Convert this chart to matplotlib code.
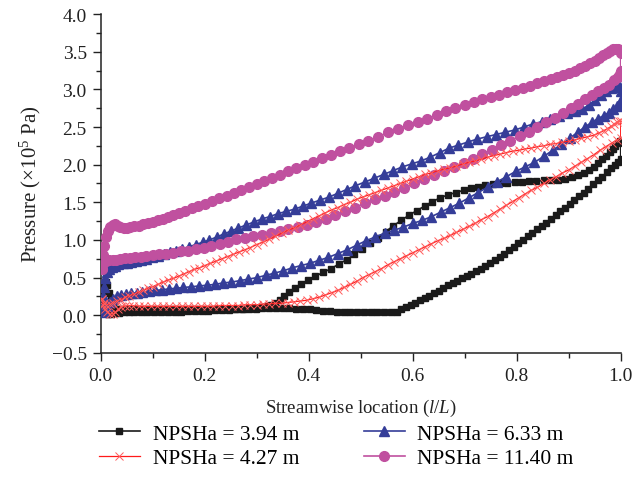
import matplotlib
matplotlib.use("Agg")
import matplotlib.pyplot as plt
from matplotlib.ticker import MultipleLocator

plt.rcParams['font.family'] = ['Liberation Serif', 'DejaVu Serif']
plt.rcParams['mathtext.fontset'] = 'custom'
plt.rcParams['mathtext.rm'] = 'Liberation Serif'
plt.rcParams['mathtext.it'] = 'Liberation Serif:italic'

labels = ["NPSHa = 3.94 m", "NPSHa = 4.27 m", "NPSHa = 6.33 m", "NPSHa = 11.40 m"]

# ---- NPSHa = 3.94 m (black) ----
blk_ps_x = [0.002, 0.004, 0.007, 0.010, 0.013, 0.016, 0.019, 0.023, 0.028, 0.034, 0.041, 0.049, 0.058, 0.068,
            0.079, 0.091, 0.104, 0.117, 0.130, 0.143, 0.156, 0.169, 0.182, 0.195, 0.208, 0.221, 0.234, 0.247,
            0.260, 0.273, 0.286, 0.298, 0.309, 0.319, 0.328, 0.336, 0.344, 0.353, 0.363, 0.374, 0.386, 0.399,
            0.413, 0.428, 0.443, 0.458, 0.473, 0.488, 0.503, 0.518, 0.533, 0.548, 0.563, 0.578, 0.593, 0.608,
            0.623, 0.638, 0.653, 0.668, 0.683, 0.698, 0.712, 0.726, 0.740, 0.754, 0.768, 0.782, 0.796, 0.810,
            0.824, 0.838, 0.852, 0.866, 0.880, 0.893, 0.906, 0.918, 0.929, 0.939, 0.948, 0.957, 0.965, 0.972,
            0.979, 0.985, 0.990, 0.995, 0.998, 1.000]
blk_ps_y = [0.15, 0.28, 0.38, 0.44, 0.40, 0.30, 0.20, 0.12, 0.09, 0.08, 0.08, 0.08, 0.08, 0.08,
            0.08, 0.08, 0.08, 0.08, 0.08, 0.08, 0.08, 0.08, 0.08, 0.08, 0.08, 0.08, 0.08, 0.09,
            0.09, 0.09, 0.10, 0.10, 0.11, 0.12, 0.14, 0.17, 0.21, 0.26, 0.31, 0.36, 0.42, 0.47,
            0.52, 0.57, 0.62, 0.68, 0.74, 0.81, 0.88, 0.96, 1.03, 1.11, 1.19, 1.26, 1.33, 1.39,
            1.45, 1.51, 1.56, 1.60, 1.63, 1.66, 1.69, 1.71, 1.73, 1.74, 1.75, 1.76, 1.77, 1.77,
            1.78, 1.78, 1.79, 1.79, 1.80, 1.81, 1.83, 1.86, 1.89, 1.93, 1.97, 2.02, 2.07, 2.12,
            2.17, 2.21, 2.25, 2.29, 2.31, 2.32]
blk_ss_x = [0.002, 0.005, 0.009, 0.014, 0.020, 0.027, 0.035, 0.044, 0.054, 0.065, 0.077, 0.090, 0.103, 0.116,
            0.129, 0.142, 0.155, 0.168, 0.181, 0.194, 0.207, 0.220, 0.233, 0.246, 0.259, 0.272, 0.285, 0.298,
            0.311, 0.324, 0.337, 0.350, 0.363, 0.376, 0.389, 0.402, 0.415, 0.428, 0.441, 0.454, 0.467, 0.480,
            0.493, 0.506, 0.519, 0.532, 0.545, 0.558, 0.569, 0.578, 0.587, 0.596, 0.605, 0.614, 0.623, 0.632,
            0.641, 0.650, 0.659, 0.668, 0.677, 0.686, 0.695, 0.704, 0.713, 0.722, 0.731, 0.740, 0.749, 0.758,
            0.767, 0.776, 0.785, 0.794, 0.803, 0.812, 0.821, 0.830, 0.839, 0.848, 0.857, 0.866, 0.875, 0.884,
            0.893, 0.902, 0.911, 0.920, 0.929, 0.938, 0.947, 0.956, 0.965, 0.974, 0.982, 0.989, 0.995, 1.000]
blk_ss_y = [0.15, 0.07, 0.03, 0.02, 0.02, 0.03, 0.03, 0.04, 0.04, 0.04, 0.05, 0.05, 0.05, 0.05,
            0.05, 0.05, 0.05, 0.06, 0.06, 0.06, 0.06, 0.07, 0.07, 0.07, 0.08, 0.08, 0.09, 0.09,
            0.10, 0.10, 0.10, 0.10, 0.10, 0.09, 0.08, 0.08, 0.07, 0.06, 0.06, 0.05, 0.05, 0.05,
            0.05, 0.05, 0.05, 0.05, 0.05, 0.05, 0.05, 0.08, 0.11, 0.14, 0.17, 0.20, 0.23, 0.26,
            0.29, 0.32, 0.36, 0.40, 0.43, 0.46, 0.49, 0.52, 0.55, 0.59, 0.62, 0.66, 0.70, 0.74,
            0.78, 0.82, 0.87, 0.91, 0.96, 1.00, 1.05, 1.09, 1.14, 1.19, 1.23, 1.28, 1.33, 1.38,
            1.43, 1.48, 1.53, 1.58, 1.63, 1.68, 1.74, 1.79, 1.84, 1.90, 1.95, 1.99, 2.03, 2.08]

# ---- NPSHa = 4.27 m (red) ----
red_ps_x = [0.002, 0.006, 0.011, 0.017, 0.024, 0.031, 0.039, 0.047, 0.055, 0.064, 0.073, 0.082, 0.091, 0.100,
            0.110, 0.120, 0.130, 0.140, 0.150, 0.160, 0.170, 0.180, 0.190, 0.200, 0.211, 0.222, 0.233, 0.244,
            0.255, 0.266, 0.277, 0.288, 0.300, 0.312, 0.324, 0.336, 0.348, 0.360, 0.372, 0.384, 0.396, 0.408,
            0.420, 0.432, 0.444, 0.456, 0.468, 0.480, 0.492, 0.504, 0.516, 0.528, 0.540, 0.552, 0.564, 0.576,
            0.588, 0.600, 0.612, 0.624, 0.636, 0.648, 0.660, 0.672, 0.684, 0.696, 0.708, 0.720, 0.732, 0.744,
            0.756, 0.768, 0.780, 0.792, 0.804, 0.816, 0.828, 0.840, 0.852, 0.864, 0.876, 0.888, 0.900, 0.912,
            0.924, 0.936, 0.948, 0.958, 0.967, 0.975, 0.982, 0.988, 0.993, 0.997, 1.000]
red_ps_y = [0.22, 0.16, 0.14, 0.15, 0.17, 0.19, 0.21, 0.24, 0.26, 0.28, 0.31, 0.33, 0.36, 0.38,
            0.41, 0.44, 0.47, 0.49, 0.52, 0.55, 0.58, 0.61, 0.63, 0.66, 0.69, 0.72, 0.75, 0.78,
            0.81, 0.84, 0.87, 0.90, 0.94, 0.97, 1.01, 1.05, 1.09, 1.13, 1.16, 1.20, 1.24, 1.28,
            1.32, 1.36, 1.40, 1.43, 1.47, 1.50, 1.54, 1.57, 1.60, 1.63, 1.66, 1.69, 1.72, 1.75,
            1.78, 1.81, 1.84, 1.87, 1.89, 1.92, 1.94, 1.96, 1.98, 2.01, 2.03, 2.05, 2.07, 2.10,
            2.12, 2.14, 2.16, 2.18, 2.19, 2.21, 2.22, 2.24, 2.25, 2.27, 2.28, 2.30, 2.31, 2.33,
            2.35, 2.37, 2.39, 2.42, 2.45, 2.48, 2.51, 2.54, 2.56, 2.58, 2.58]
red_ss_x = [0.002, 0.005, 0.009, 0.013, 0.018, 0.023, 0.028, 0.033, 0.039, 0.046, 0.054, 0.063, 0.073, 0.084,
            0.096, 0.108, 0.120, 0.132, 0.144, 0.156, 0.168, 0.180, 0.192, 0.204, 0.216, 0.228, 0.240, 0.252,
            0.264, 0.276, 0.288, 0.300, 0.312, 0.324, 0.336, 0.348, 0.360, 0.372, 0.384, 0.396, 0.408, 0.420,
            0.432, 0.444, 0.456, 0.468, 0.480, 0.492, 0.504, 0.516, 0.528, 0.540, 0.552, 0.564, 0.576, 0.588,
            0.600, 0.612, 0.624, 0.636, 0.648, 0.660, 0.672, 0.684, 0.696, 0.708, 0.720, 0.732, 0.744, 0.756,
            0.768, 0.780, 0.792, 0.804, 0.816, 0.828, 0.840, 0.852, 0.864, 0.876, 0.888, 0.900, 0.912, 0.924,
            0.936, 0.948, 0.960, 0.972, 0.984, 0.993, 1.000]
red_ss_y = [0.22, 0.14, 0.08, 0.04, 0.02, 0.02, 0.04, 0.08, 0.11, 0.12, 0.13, 0.13, 0.12, 0.12,
            0.12, 0.12, 0.12, 0.12, 0.12, 0.12, 0.12, 0.12, 0.12, 0.12, 0.12, 0.13, 0.13, 0.13,
            0.13, 0.14, 0.14, 0.14, 0.15, 0.15, 0.16, 0.16, 0.17, 0.18, 0.19, 0.20, 0.22, 0.24,
            0.27, 0.30, 0.33, 0.37, 0.41, 0.45, 0.50, 0.54, 0.58, 0.62, 0.67, 0.71, 0.75, 0.79,
            0.83, 0.87, 0.91, 0.95, 0.99, 1.02, 1.06, 1.10, 1.14, 1.18, 1.22, 1.27, 1.31, 1.36,
            1.41, 1.46, 1.51, 1.56, 1.61, 1.66, 1.70, 1.75, 1.80, 1.84, 1.89, 1.93, 1.98, 2.03,
            2.08, 2.13, 2.19, 2.24, 2.29, 2.33, 2.36]

# ---- NPSHa = 6.33 m (blue) ----
blu_ps_x = [0.002, 0.004, 0.006, 0.009, 0.012, 0.016, 0.021, 0.027, 0.034, 0.042, 0.050, 0.059, 0.068, 0.078,
            0.088, 0.099, 0.110, 0.121, 0.133, 0.145, 0.157, 0.170, 0.183, 0.196, 0.209, 0.223, 0.237, 0.251,
            0.265, 0.280, 0.295, 0.310, 0.325, 0.341, 0.357, 0.373, 0.389, 0.405, 0.422, 0.439, 0.456, 0.473,
            0.490, 0.508, 0.526, 0.544, 0.562, 0.580, 0.598, 0.616, 0.634, 0.652, 0.670, 0.688, 0.706, 0.724,
            0.742, 0.760, 0.778, 0.796, 0.814, 0.831, 0.848, 0.865, 0.881, 0.897, 0.912, 0.926, 0.939, 0.951,
            0.962, 0.972, 0.981, 0.989, 0.995, 0.999, 1.000]
blu_ps_y = [0.10, 0.25, 0.38, 0.50, 0.57, 0.61, 0.64, 0.66, 0.68, 0.69, 0.70, 0.71, 0.72, 0.74,
            0.75, 0.77, 0.79, 0.81, 0.84, 0.86, 0.88, 0.91, 0.94, 0.97, 1.00, 1.04, 1.08, 1.12,
            1.16, 1.20, 1.24, 1.28, 1.31, 1.35, 1.38, 1.41, 1.45, 1.49, 1.53, 1.57, 1.62, 1.67,
            1.72, 1.77, 1.82, 1.87, 1.92, 1.97, 2.01, 2.05, 2.10, 2.16, 2.22, 2.26, 2.30, 2.34,
            2.37, 2.40, 2.43, 2.46, 2.50, 2.54, 2.57, 2.61, 2.64, 2.68, 2.71, 2.74, 2.79, 2.86,
            2.93, 2.98, 3.02, 3.04, 3.05, 3.03, 2.98]
blu_ss_x = [0.002, 0.005, 0.009, 0.013, 0.018, 0.024, 0.031, 0.039, 0.048, 0.058, 0.069, 0.080, 0.092, 0.105,
            0.118, 0.131, 0.145, 0.159, 0.174, 0.189, 0.204, 0.219, 0.235, 0.251, 0.267, 0.283, 0.300, 0.317,
            0.334, 0.351, 0.368, 0.385, 0.402, 0.420, 0.438, 0.456, 0.474, 0.492, 0.510, 0.528, 0.546, 0.564,
            0.582, 0.600, 0.618, 0.636, 0.654, 0.672, 0.690, 0.708, 0.726, 0.744, 0.762, 0.780, 0.798, 0.816,
            0.834, 0.852, 0.869, 0.886, 0.902, 0.917, 0.931, 0.944, 0.956, 0.967, 0.977, 0.986, 0.993, 0.998,
            1.000]
blu_ss_y = [0.10, 0.04, 0.06, 0.12, 0.18, 0.22, 0.25, 0.27, 0.28, 0.29, 0.30, 0.31, 0.32, 0.33,
            0.34, 0.35, 0.36, 0.37, 0.38, 0.39, 0.40, 0.41, 0.43, 0.44, 0.46, 0.48, 0.50, 0.53,
            0.56, 0.59, 0.63, 0.66, 0.69, 0.73, 0.77, 0.82, 0.87, 0.93, 0.99, 1.04, 1.09, 1.13,
            1.17, 1.22, 1.26, 1.31, 1.37, 1.43, 1.49, 1.56, 1.63, 1.70, 1.77, 1.84, 1.91, 1.97,
            2.03, 2.11, 2.19, 2.27, 2.35, 2.43, 2.50, 2.56, 2.61, 2.65, 2.69, 2.74, 2.78, 2.82,
            2.86]

# ---- NPSHa = 11.40 m (magenta) ----
mag_ps_x = [0.002, 0.004, 0.007, 0.010, 0.014, 0.018, 0.023, 0.028, 0.033, 0.038, 0.044, 0.050, 0.057, 0.065,
            0.073, 0.082, 0.091, 0.100, 0.110, 0.120, 0.130, 0.140, 0.150, 0.162, 0.175, 0.188, 0.200, 0.214,
            0.228, 0.242, 0.256, 0.270, 0.285, 0.300, 0.315, 0.330, 0.345, 0.360, 0.376, 0.392, 0.408, 0.425,
            0.442, 0.460, 0.478, 0.496, 0.515, 0.534, 0.553, 0.572, 0.591, 0.610, 0.628, 0.646, 0.664, 0.682,
            0.700, 0.717, 0.734, 0.750, 0.766, 0.782, 0.797, 0.812, 0.826, 0.840, 0.853, 0.866, 0.878, 0.890,
            0.901, 0.912, 0.922, 0.932, 0.941, 0.950, 0.958, 0.966, 0.973, 0.980, 0.986, 0.991, 0.995, 0.998,
            1.000]
mag_ps_y = [0.62, 0.80, 0.92, 1.04, 1.12, 1.17, 1.20, 1.21, 1.19, 1.17, 1.16, 1.16, 1.17, 1.18,
            1.19, 1.21, 1.22, 1.24, 1.26, 1.28, 1.31, 1.33, 1.36, 1.39, 1.42, 1.45, 1.48, 1.52,
            1.56, 1.59, 1.63, 1.66, 1.70, 1.74, 1.78, 1.82, 1.86, 1.91, 1.95, 1.99, 2.04, 2.09,
            2.13, 2.18, 2.22, 2.27, 2.32, 2.37, 2.43, 2.48, 2.52, 2.57, 2.61, 2.66, 2.71, 2.75,
            2.79, 2.83, 2.87, 2.90, 2.93, 2.96, 2.99, 3.02, 3.05, 3.08, 3.11, 3.14, 3.17, 3.19,
            3.22, 3.25, 3.28, 3.31, 3.35, 3.38, 3.42, 3.45, 3.48, 3.51, 3.53, 3.54, 3.54, 3.52,
            3.48]
mag_ss_x = [0.002, 0.005, 0.010, 0.016, 0.023, 0.030, 0.038, 0.047, 0.056, 0.066, 0.077, 0.088, 0.100, 0.113,
            0.126, 0.140, 0.154, 0.168, 0.183, 0.198, 0.213, 0.229, 0.245, 0.261, 0.277, 0.293, 0.310, 0.327,
            0.344, 0.361, 0.379, 0.397, 0.415, 0.433, 0.451, 0.470, 0.489, 0.508, 0.527, 0.546, 0.565, 0.584,
            0.603, 0.622, 0.641, 0.660, 0.679, 0.698, 0.716, 0.734, 0.752, 0.770, 0.788, 0.806, 0.823, 0.840,
            0.857, 0.873, 0.889, 0.904, 0.918, 0.932, 0.945, 0.957, 0.968, 0.978, 0.987, 0.994, 0.998, 1.000]
mag_ss_y = [0.62, 0.70, 0.72, 0.73, 0.74, 0.74, 0.75, 0.76, 0.76, 0.77, 0.78, 0.79, 0.80, 0.81,
            0.82, 0.83, 0.85, 0.86, 0.88, 0.90, 0.92, 0.95, 0.98, 1.01, 1.03, 1.05, 1.07, 1.09,
            1.12, 1.14, 1.17, 1.20, 1.24, 1.28, 1.33, 1.38, 1.43, 1.49, 1.54, 1.59, 1.64, 1.69,
            1.75, 1.81, 1.86, 1.92, 1.97, 2.02, 2.08, 2.14, 2.20, 2.26, 2.32, 2.38, 2.44, 2.50,
            2.56, 2.62, 2.68, 2.75, 2.81, 2.87, 2.93, 2.98, 3.02, 3.06, 3.12, 3.17, 3.21, 3.25]

series = [
    (blk_ps_x, blk_ps_y, blk_ss_x, blk_ss_y),
    (red_ps_x, red_ps_y, red_ss_x, red_ss_y),
    (blu_ps_x, blu_ps_y, blu_ss_x, blu_ss_y),
    (mag_ps_x, mag_ps_y, mag_ss_x, mag_ss_y),
]
styles = [
    dict(color='#1a1a1a', marker='s', markersize=5.0, mfc='#1a1a1a', mec='#1a1a1a', lw=1.2, zorder=3),
    dict(color='#ff1a1a', marker='x', markersize=5.5, mfc='none', mec='#ff5c5c', mew=0.7, lw=0.9, zorder=6),
    dict(color='#353d98', marker='^', markersize=7.0, mfc='#353d98', mec='#353d98', lw=1.2, zorder=4),
    dict(color='#c0509f', marker='o', markersize=7.0, mfc='#c0509f', mec='#c0509f', lw=1.2, zorder=5),
]

fig = plt.figure(figsize=(6.43, 4.89), dpi=100)
ax = fig.add_axes([0.1566, 0.2761, 0.8087, 0.6932])

for (psx, psy, ssx, ssy), st, lab in zip(series, styles, labels):
    xs = list(psx) + list(ssx[::-1])
    ys = list(psy) + list(ssy[::-1])
    ax.plot(xs, ys, label=lab, **st)

ax.set_xlim(0.0, 1.0)
ax.set_ylim(-0.5, 4.0)
ax.xaxis.set_major_locator(MultipleLocator(0.2))
ax.xaxis.set_minor_locator(MultipleLocator(0.1))
ax.yaxis.set_major_locator(MultipleLocator(0.5))
ax.yaxis.set_minor_locator(MultipleLocator(0.25))
ax.spines['top'].set_visible(False)
ax.spines['right'].set_visible(False)
for s in ('left', 'bottom'):
    ax.spines[s].set_linewidth(1.1)
    ax.spines[s].set_color('#222222')
ax.tick_params(which='major', direction='out', length=6, width=1.0, labelsize=14, colors='#222222', pad=4)
ax.tick_params(which='minor', direction='out', length=3.5, width=1.0, colors='#222222')
ax.xaxis.set_major_formatter(matplotlib.ticker.FuncFormatter(lambda v, p: f"{v:.1f}"))
ax.yaxis.set_major_formatter(matplotlib.ticker.FuncFormatter(lambda v, p: f"{v:.1f}".replace('-', '\u2212')))

ax.set_xlabel(r'Streamwise location ($l/L$)', fontsize=13.5, color='#222222', labelpad=9)
ax.set_ylabel(r'Pressure ($\times$10$^{5}$ Pa)', fontsize=15, color='#222222', labelpad=6)

leg = fig.legend(loc='center', bbox_to_anchor=(0.523, 0.086), ncol=2, frameon=False, fontsize=15.5,
                 handlelength=1.9, columnspacing=3.0, handletextpad=0.6, labelspacing=0.2)

fig.savefig('out.png', dpi=100)
